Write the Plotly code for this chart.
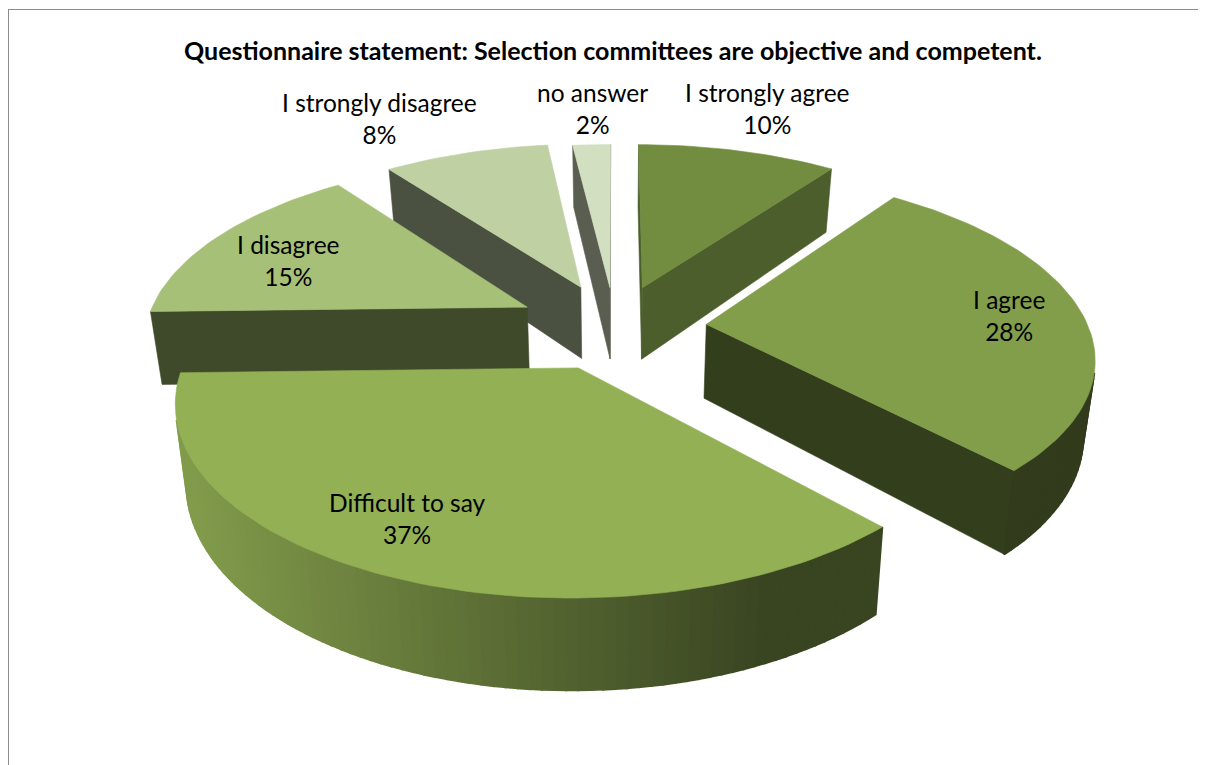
import math
import plotly.graph_objects as go

# data
CATEGORIES = ["I strongly agree", "I agree", "Difficult to say", "I disagree", "I strongly disagree", "no answer"]
SHARES = [10.0, 28.0, 36.6, 15.2, 8.3, 1.9]

# style
TOP_COLORS = ["#728C40", "#839E4B", "#93B055", "#A7C077", "#BFD0A3", "#D3DFC1"]
WALL_COLORS = ["#4C5E2B", "#333F1C", "#3A4620", "#3F4A2A", "#4B5140", "#5A5E50"]
RIM_LIGHT = [0.55, 0.38, 0.88, 0.55, 0.55, 0.55]
RIM_DARK = [0.55, 0.38, 0.39, 0.55, 0.55, 0.55]
PAINT_ORDER = [0, 5, 4, 3, 1, 2]
EXPLODES = [0.24, 0.24, 0.24, 0.26, 0.25, 0.23]
LABEL_X = [767, 1009, 407, 288, 379, 592]
LABEL_Y = [108, 315, 518, 260, 118, 108]
CX, CY, RX, RY, PERSP, DEPTH, BOTTOM_X = 615, 327, 382, 178, 0.162, 74, 0.975
FONT = "Lato"


def project(u, v, low=False):
    w = 1 / (1 + PERSP * v)
    x = RX * u * w
    y = CY - RY * v * w
    if low:
        return CX + x * BOTTOM_X, y + DEPTH * w
    return CX + x, y


def area(pts):
    return sum(pts[i][0] * pts[(i + 1) % len(pts)][1] - pts[(i + 1) % len(pts)][0] * pts[i][1] for i in range(len(pts)))


def shade(hex_color, f):
    return "#" + "".join(f"{min(255, round(int(hex_color[i:i + 2], 16) * f)):02X}" for i in (1, 3, 5))


fig = go.Figure()


def poly(pts, color, width=0.6):
    xs = [p[0] for p in pts] + [pts[0][0]]
    ys = [p[1] for p in pts] + [pts[0][1]]
    fig.add_trace(go.Scatter(x=xs, y=ys, mode="lines", fill="toself", fillcolor=color,
                             line=dict(color=color, width=width), hoverinfo="skip", showlegend=False))


total = sum(SHARES)
bounds = [0]
for s in SHARES:
    bounds.append(bounds[-1] + 360 * s / total)

for i in PAINT_ORDER:
    a0, a1 = bounds[i], bounds[i + 1]
    mid = math.radians((a0 + a1) / 2)
    ou, ov = EXPLODES[i] * math.sin(mid), EXPLODES[i] * math.cos(mid)
    n = max(4, int((a1 - a0) / 1.5))
    disc = [(ou + math.sin(math.radians(a0 + (a1 - a0) * k / n)),
             ov + math.cos(math.radians(a0 + (a1 - a0) * k / n))) for k in range(n + 1)]
    apex = (ou, ov)
    # radial walls
    for a, b in ((apex, disc[0]), (disc[-1], apex)):
        quad = [project(*a), project(*b), project(*b, True), project(*a, True)]
        if area(quad) < 0:
            poly(quad, WALL_COLORS[i])
    # outer rim, one strip at a time so that the shading can run along it
    for a, b in zip(disc[:-1], disc[1:]):
        quad = [project(*a), project(*b), project(*b, True), project(*a, True)]
        if area(quad) < 0:
            t = min(1, max(0, (quad[0][0] - 190) / 580))
            poly(quad, shade(TOP_COLORS[i], RIM_LIGHT[i] + (RIM_DARK[i] - RIM_LIGHT[i]) * t), 2)
    poly([project(*apex)] + [project(*d) for d in disc], TOP_COLORS[i])

for name, share, x, y in zip(CATEGORIES, SHARES, LABEL_X, LABEL_Y):
    fig.add_annotation(x=x, y=y, xref="x", yref="y", text=f"{name}<br>{share:.0f}%", showarrow=False,
                       align="center", font=dict(family=FONT, size=24.5, color="#000000"))

fig.add_annotation(x=612.5, y=50, xref="x", yref="y", showarrow=False,
                   text="<b>Questionnaire statement: Selection committees are objective and competent.</b>",
                   font=dict(family=FONT, size=25, color="#000000"))

fig.add_shape(type="line", x0=8, x1=1206, y0=9.5, y1=9.5, xref="x", yref="y", line=dict(color="#8C8C8C", width=1))
fig.add_shape(type="line", x0=8.5, x1=8.5, y0=9.5, y1=765, xref="x", yref="y", line=dict(color="#8C8C8C", width=1))

fig.update_layout(width=1198, height=757, margin=dict(l=0, r=0, t=0, b=0), paper_bgcolor="white",
                  plot_bgcolor="white", showlegend=False,
                  xaxis=dict(range=[8, 1206], visible=False, fixedrange=True),
                  yaxis=dict(range=[765, 8], visible=False, fixedrange=True))
fig.write_html("out.html", config={"displayModeBar": False})
